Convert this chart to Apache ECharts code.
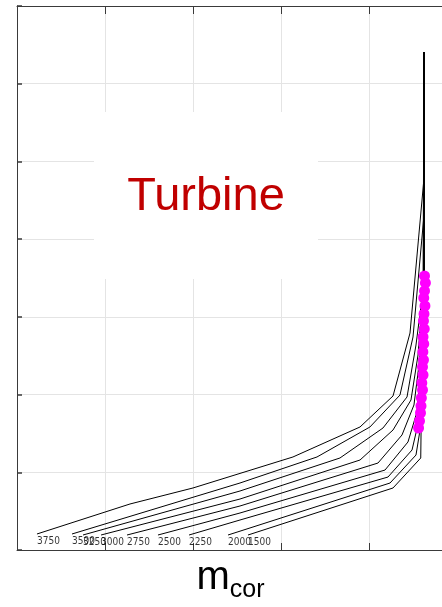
<!DOCTYPE html>
<html><head><meta charset="utf-8">
<script src="https://cdn.jsdelivr.net/npm/echarts@6/dist/echarts.min.js"></script>
<style>html,body{margin:0;padding:0;background:#fff}#c{width:442px;height:607px}</style>
</head><body><div id="c"></div>
<script>
// speed-line labels (corrected speed)
const speedLabels = ['3750', '3500', '3250', '3000', '2750', '2500', '2250', '2000', '1500'];

// speed lines [m_cor, y] (axis units; no tick labels in the original)
const line3750 = [[0.227,0.206],[1.284,0.592],[2.0,0.798],[3.136,1.197],[3.898,1.583],[4.273,1.982],[4.466,2.792],[4.625,4.787],[4.625,6.408]];
const line3500 = [[0.625,0.206],[2.534,0.862],[3.409,1.197],[4.011,1.583],[4.352,1.994],[4.5,2.741],[4.625,4.311],[4.625,6.408]];
const line3250 = [[0.75,0.193],[2.534,0.759],[3.670,1.184],[4.159,1.570],[4.432,1.969],[4.534,2.638],[4.614,3.346],[4.625,6.408]];
const line3000 = [[0.955,0.193],[2.534,0.656],[3.898,1.158],[4.273,1.544],[4.477,1.930],[4.557,2.509],[4.625,3.474],[4.625,6.408]];
const line2750 = [[1.25,0.193],[2.534,0.566],[4.102,1.119],[4.375,1.480],[4.511,1.866],[4.568,2.381],[4.625,3.474],[4.625,6.408]];
const line2500 = [[1.602,0.193],[2.534,0.476],[4.182,1.029],[4.443,1.390],[4.545,1.776],[4.580,2.252],[4.625,3.474],[4.625,6.408]];
const line2250 = [[1.955,0.193],[2.534,0.386],[4.216,0.939],[4.489,1.287],[4.568,1.673],[4.591,2.123],[4.625,3.474],[4.625,6.408]];
const line2000 = [[2.398,0.193],[4.239,0.862],[4.534,1.222],[4.580,1.544],[4.591,1.994],[4.625,3.474],[4.625,6.408]];
const line1500 = [[2.625,0.193],[4.273,0.798],[4.588,1.184],[4.599,2.188],[4.625,3.474],[4.625,6.408]];

// operating points (magenta)
const operatingX = [4.631,4.641,4.631,4.622,4.636,4.625,4.619,4.628,4.614,4.622,4.612,4.619,4.608,4.614,4.600,4.608,4.595,4.591,4.585,4.574,4.563];
const operatingY = [3.526,3.436,3.333,3.243,3.140,3.037,2.947,2.844,2.741,2.651,2.548,2.445,2.355,2.252,2.149,2.059,1.956,1.853,1.763,1.660,1.570];

const titleText = 'Turbine';
const xNameMain = 'm';
const xNameSub = 'cor';

const speedLines = [line3750, line3500, line3250, line3000, line2750, line2500, line2250, line2000, line1500];

const chart = echarts.init(document.getElementById('c'), null, {renderer: 'canvas'});

const axisColor = '#3a3a3a';
const gridColor = '#e4e4e4';

const series = speedLines.map((d, i) => ({
  type: 'line', name: speedLabels[i], data: d,
  showSymbol: false, symbol: 'none', silent: true,
  lineStyle: {color: '#000', width: 1}, z: 3
}));
series.push({
  type: 'scatter', name: 'labels', silent: true,
  data: speedLines.map((d, i) => ({value: d[0], label: {formatter: speedLabels[i]}})),
  symbolSize: 1, itemStyle: {color: 'rgba(0,0,0,0)'},
  label: {show: true, position: 'bottom', align: 'left', distance: 2,
    fontFamily: '"Liberation Sans Narrow", "Arial Narrow", "DejaVu Sans Condensed", sans-serif',
    fontSize: 10, color: '#000'},
  z: 4
});
series.push({
  type: 'scatter', name: 'operating points', silent: true,
  data: operatingX.map((x, i) => [x, operatingY[i]]),
  symbol: 'circle', symbolSize: 11, itemStyle: {color: '#ff00ff', opacity: 1}, z: 5
});

chart.setOption({
  animation: false,
  backgroundColor: '#fff',
  grid: {left: 17, top: 6, width: 440, height: 544, containLabel: false, outerBoundsMode: 'none'},
  xAxis: [{
    type: 'value', min: 0, max: 5, interval: 1, position: 'bottom',
    axisLine: {show: true, onZero: false, lineStyle: {color: axisColor, width: 1}},
    axisTick: {show: true, inside: true, length: 7, lineStyle: {color: axisColor, width: 1}},
    axisLabel: {show: false},
    splitLine: {show: true, lineStyle: {color: gridColor, width: 1}},
    name: '{m|' + xNameMain + '}{s|' + xNameSub + '}',
    nameLocation: 'middle', nameGap: 8,
    nameTextStyle: {
      padding: [0, 13, 0, 0],
      rich: {
        m: {fontSize: 40, lineHeight: 40, fontFamily: '"Liberation Sans", Arial, sans-serif', color: '#000'},
        s: {fontSize: 25, lineHeight: 25, padding: [24, 0, 0, 0], fontFamily: '"Liberation Sans", Arial, sans-serif', color: '#000'}
      }
    }
  }, {
    type: 'value', min: 0, max: 5, interval: 1, position: 'top',
    axisLine: {show: true, onZero: false, lineStyle: {color: axisColor, width: 1}},
    axisTick: {show: true, inside: true, length: 8, lineStyle: {color: axisColor, width: 1}},
    axisLabel: {show: false},
    splitLine: {show: false}
  }],
  yAxis: [{
    type: 'value', min: 0, max: 7, interval: 1, position: 'left',
    axisLine: {show: true, onZero: false, lineStyle: {color: axisColor, width: 1}},
    axisTick: {show: true, inside: true, length: 5, lineStyle: {color: axisColor, width: 1.5}},
    axisLabel: {show: false},
    splitLine: {show: true, lineStyle: {color: gridColor, width: 1}}
  }],
  graphic: [{
    type: 'group', left: 94, top: 112, z: 100,
    children: [
      {type: 'rect', z: 100, shape: {x: 0, y: 0, width: 224, height: 167}, style: {fill: '#fff'}},
      {type: 'text', z: 101, x: 112, y: 85, style: {text: titleText, fill: '#c00000', fontSize: 47,
        fontFamily: '"Liberation Sans", Arial, sans-serif', align: 'center', verticalAlign: 'middle'}}
    ]
  }],
  series: series
});
</script></body></html>
